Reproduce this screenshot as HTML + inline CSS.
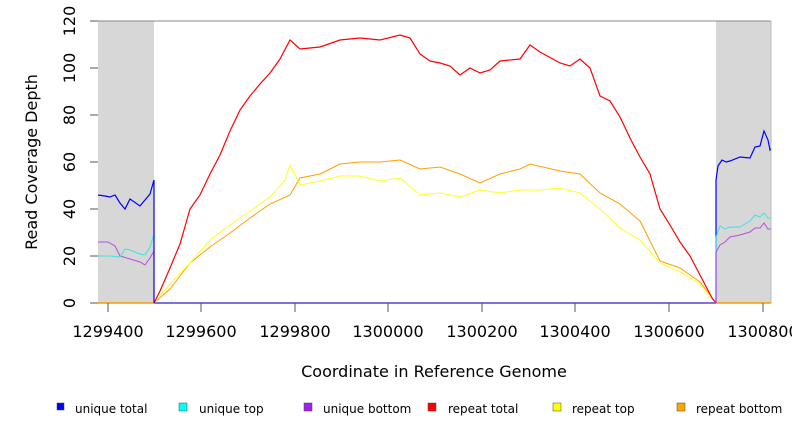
<!DOCTYPE html><html><head><style>body{margin:0;background:#fff}svg text{font-family:"DejaVu Sans","Liberation Sans",sans-serif}</style></head><body>
<svg width="792" height="432" xmlns="http://www.w3.org/2000/svg">
<rect x="98" y="21" width="56" height="282" fill="#d7d7d7"/>
<rect x="716" y="21" width="55" height="282" fill="#d7d7d7"/>
<line x1="98" y1="21" x2="771" y2="21" stroke="#888"/>
<line x1="771" y1="21" x2="771" y2="303" stroke="#bbb"/>
<line x1="98" y1="303" x2="771" y2="303" stroke="#f90" stroke-width="1.5"/>
<line x1="154" y1="303" x2="716" y2="303" stroke="#55f" stroke-width="1.5"/>
<g fill="none" stroke-width="1.2">
<polyline stroke="#ffa000" stroke-width="1" points="154,303 170,289 190,263 210,247 230,233 250,218 270,204 290,195 300,178 320,174 340,164 360,162 380,162 400,160 420,169 440,167 460,174 480,183 500,174 520,169 530,164 560,171 580,174 600,193 620,204 640,221 660,261 680,268 700,282 716,303"/>
<polyline stroke="#ffff20" stroke-width="1" points="154,303 170,284 190,263 210,240 230,225 250,211 270,197 285,180 290,165 300,185 320,181 340,176 360,176 380,181 400,178 420,195 440,193 460,197 480,190 500,193 520,190 540,190 560,188 580,193 600,209 620,228 640,240 660,263 680,272 700,284 716,303"/>
<polyline stroke="#f00" points="154,303 160,291 170,268 180,244 190,209 200,195 210,174 220,155 230,131 240,110 250,96 260,84 270,73 280,59 290,40 300,49 320,47 340,40 360,38 380,40 400,35 410,38 420,54 430,61 440,63 450,66 460,75 470,68 480,73 490,70 500,61 520,59 530,45 540,52 560,63 570,66 580,59 590,68 600,96 610,101 620,117 630,138 640,157 650,174 660,209 670,225 680,242 690,256 700,275 712,298 716,303"/>
<polyline stroke="#b050e0" stroke-width="1" points="98,242 108,242 115,246 120,256 130,259 140,262 145,265 150,258 154,251 154,303"/>
<polyline stroke="#40e0e0" stroke-width="1" points="98,256 105,256 110,256 120,257 125,249 130,250 140,254 145,255 150,247 154,234 154,303"/>
<polyline stroke="#00f" points="98,195 105,196 110,197 115,195 120,203 125,209 130,199 140,206 150,194 154,180 154,303"/>
<polyline stroke="#00f" points="716,303 716,180 718,166 722,160 726,162 730,161 740,157 750,158 755,147 760,146 764,131 768,140 770,150 771,149"/>
<polyline stroke="#40e0e0" stroke-width="1" points="716,303 716,237 720,226 725,229 730,227 740,227 750,221 755,215 760,217 764,213 768,218 771,218"/>
<polyline stroke="#b050e0" stroke-width="1" points="716,303 716,252 720,245 725,242 730,237 740,235 750,232 755,228 760,228 764,223 768,229 771,229"/>
</g>
<g stroke="#555"><line x1="90" y1="21" x2="98" y2="21"/><line x1="90" y1="68" x2="98" y2="68"/><line x1="90" y1="115" x2="98" y2="115"/><line x1="90" y1="162" x2="98" y2="162"/><line x1="90" y1="209" x2="98" y2="209"/><line x1="90" y1="256" x2="98" y2="256"/><line x1="90" y1="303" x2="98" y2="303"/>
<line x1="108" y1="303" x2="108" y2="312"/><line x1="201" y1="303" x2="201" y2="312"/><line x1="295" y1="303" x2="295" y2="312"/><line x1="388" y1="303" x2="388" y2="312"/><line x1="482" y1="303" x2="482" y2="312"/><line x1="575" y1="303" x2="575" y2="312"/><line x1="669" y1="303" x2="669" y2="312"/><line x1="763" y1="303" x2="763" y2="312"/></g>
<g font-size="16" text-anchor="middle" fill="#000">
<text transform="translate(75,21) rotate(-90)">120</text><text transform="translate(75,68) rotate(-90)">100</text><text transform="translate(75,115) rotate(-90)">80</text><text transform="translate(75,162) rotate(-90)">60</text><text transform="translate(75,209) rotate(-90)">40</text><text transform="translate(75,256) rotate(-90)">20</text><text transform="translate(75,303) rotate(-90)">0</text>
<text x="108" y="337">1299400</text><text x="201" y="337">1299600</text><text x="295" y="337">1299800</text><text x="388" y="337">1300000</text><text x="482" y="337">1300200</text><text x="575" y="337">1300400</text><text x="669" y="337">1300600</text><text x="763" y="337">1300800</text>
<text x="434" y="377">Coordinate in Reference Genome</text>
<text transform="translate(37,162) rotate(-90)">Read Coverage Depth</text>
</g>
<g font-size="12" fill="#000" stroke="#444" stroke-width="0.5">
<rect x="57" y="403" width="7" height="7" fill="#00f"/><rect x="179" y="403" width="8" height="8" fill="#0ff"/><rect x="304" y="403" width="8" height="8" fill="#a020f0"/><rect x="428" y="403" width="8" height="8" fill="#f00"/><rect x="553" y="403" width="8" height="8" fill="#ff0"/><rect x="677" y="403" width="8" height="8" fill="#ffa500"/>
</g>
<g font-size="12" fill="#000"><text x="75" y="413">unique total</text><text x="199" y="413">unique top</text><text x="323" y="413">unique bottom</text><text x="448" y="413">repeat total</text><text x="572" y="413">repeat top</text><text x="696" y="413">repeat bottom</text></g>
</svg></body></html>
